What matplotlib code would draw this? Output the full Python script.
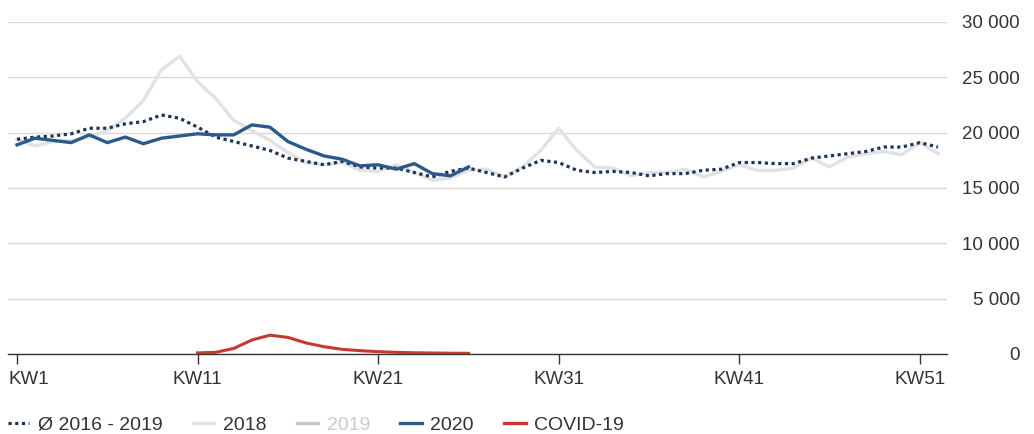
import matplotlib.pyplot as plt
from matplotlib.lines import Line2D
from matplotlib.transforms import ScaledTranslation

weeks = list(range(1, 53))

avg_16_19 = [19400, 19600, 19700, 19900, 20400, 20400, 20800, 21000, 21600, 21300,
             20500, 19600, 19200, 18800, 18400, 17700, 17400, 17100, 17400, 16900,
             16800, 16800, 16400, 16000, 16500, 16800, 16400, 16000, 16800, 17500,
             17300, 16600, 16400, 16500, 16400, 16100, 16300, 16300, 16600, 16700,
             17300, 17300, 17200, 17200, 17700, 17900, 18100, 18300, 18700, 18700,
             19100, 18700]

y2018 = [19400, 18800, 19200, 19300, 19600, 20200, 21300, 22900, 25700, 26900,
         24600, 23100, 21100, 20200, 19300, 18200, 17300, 17100, 17300, 16600,
         16500, 17100, 16400, 15700, 15900, 16600, 16700, 16000, 16900, 18400,
         20400, 18400, 16900, 16800, 16100, 16400, 16400, 16700, 16000, 16500,
         17100, 16600, 16600, 16800, 17700, 16900, 17800, 18100, 18300, 18000,
         19100, 18100]

weeks_2020 = list(range(1, 27))
y2020 = [18900, 19500, 19300, 19100, 19800, 19100, 19600, 19000, 19500, 19700,
         19900, 19800, 19800, 20700, 20500, 19200, 18500, 17900, 17600, 17000,
         17100, 16700, 17200, 16300, 16100, 16900]

weeks_covid = list(range(11, 27))
covid = [100, 150, 500, 1260, 1700, 1500, 1000, 660, 420, 300,
         210, 150, 110, 90, 70, 60]

xticks = [1, 11, 21, 31, 41, 51]
xlabels = ['KW1', 'KW11', 'KW21', 'KW31', 'KW41', 'KW51']
yticks = [0, 5000, 10000, 15000, 20000, 25000, 30000]
ylabels = ['0', '5 000', '10 000', '15 000', '20 000', '25 000', '30 000']

c_avg = '#1c3557'
c_2018 = '#e2e2e2'
c_2019 = '#c6c6c6'
c_2020 = '#2a5b8c'
c_covid = '#c9382d'
c_text = '#333333'

plt.rcParams['font.family'] = ['Liberation Sans', 'DejaVu Sans']

fig = plt.figure(figsize=(10.34, 4.34), dpi=100)
ax = fig.add_axes([8/1034, 80/434, 939/1034, 332/434])

ax.plot(weeks, y2018, color=c_2018, linewidth=2.4, zorder=2)
ax.plot(weeks, avg_16_19, color=c_avg, linewidth=2.3, linestyle=(0, (1, 1.1)),
        dash_capstyle='butt', zorder=3)
ax.plot(weeks_2020, y2020, color=c_2020, linewidth=2.4, zorder=4)
ax.plot(weeks_covid, covid, color=c_covid, linewidth=2.2, zorder=5)

ax.set_xlim(0.5, 52.5)
ax.set_ylim(0, 30000)
ax.set_xticks(xticks)
ax.set_xticklabels(xlabels)
ax.set_yticks(yticks)
ax.set_yticklabels(ylabels)

ax.yaxis.tick_right()
# labels right-aligned ~73 px right of the plot area
ax.tick_params(axis='y', length=0, pad=52.5, labelsize=13.5, labelcolor=c_text)
for t in ax.get_yticklabels():
    t.set_horizontalalignment('right')
ax.tick_params(axis='x', direction='out', length=7.5, width=1, color='#333333',
               pad=5, labelsize=13.5, labelcolor=c_text)
# first label is pushed in so it is not cut at the left edge
first = ax.get_xticklabels()[0]
first.set_horizontalalignment('left')
first.set_transform(first.get_transform() + ScaledTranslation(-0.09, 0, fig.dpi_scale_trans))

ax.grid(axis='y', color='#d9d9d9', linewidth=1)
ax.set_axisbelow(True)
for s in ['top', 'left', 'right']:
    ax.spines[s].set_visible(False)
ax.spines['bottom'].set_color('#333333')
ax.spines['bottom'].set_linewidth(1)
ax.spines['bottom'].set_zorder(1)

handles = [
    Line2D([], [], color=c_avg, linewidth=2.3, linestyle=(0, (1, 1.1)), dash_capstyle='butt'),
    Line2D([], [], color=c_2018, linewidth=2.4),
    Line2D([], [], color=c_2019, linewidth=2.4),
    Line2D([], [], color=c_2020, linewidth=2.4),
    Line2D([], [], color=c_covid, linewidth=2.4),
]
names = ['Ø 2016 - 2019', '2018', '2019', '2020', 'COVID-19']
leg = fig.legend(handles, names, loc='center left', bbox_to_anchor=(8/1034, 1 - 425/434),
                 ncol=5, frameon=False, fontsize=14, handlelength=1.1,
                 handletextpad=0.45, columnspacing=1.55, borderaxespad=0, borderpad=0)
for i, t in enumerate(leg.get_texts()):
    t.set_color('#cccccc' if i == 2 else c_text)

fig.savefig('out.png', dpi=100)
